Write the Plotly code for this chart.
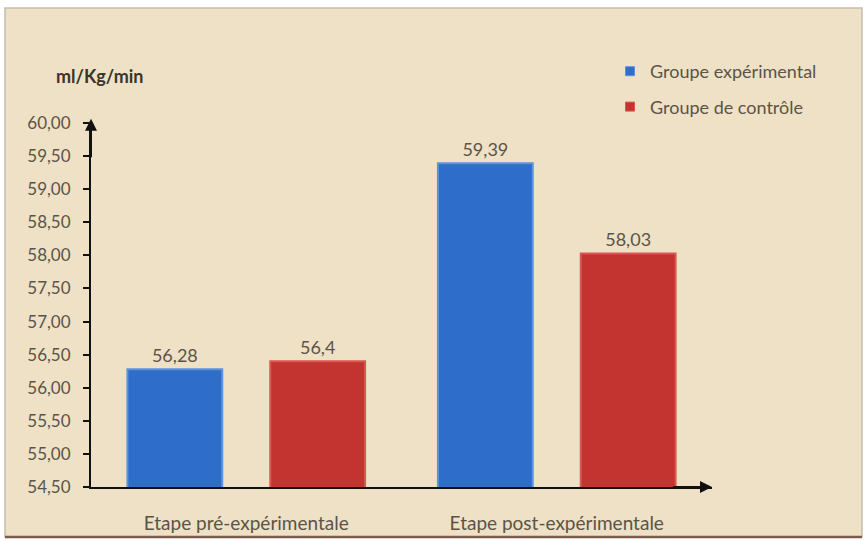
import plotly.graph_objects as go

# Mean VO2max per stage and group (ml/Kg/min)
stages = ["Etape pré-expérimentale", "Etape post-expérimentale"]
groups = ["Groupe expérimental", "Groupe de contrôle"]
experimental = [56.28, 59.39]
control = [56.4, 58.03]

y_min, y_max, y_step = 54.5, 60.0, 0.5
unit_label = "ml/Kg/min"

W, H = 866, 541
L, R, T, B = 91, 154, 123, 54
pw, ph = W - L - R, H - T - B

def px_x(px):
    return (px - L) / pw

def px_y(py):
    return (H - B - py) / ph

FONT = "Lato, Noto Sans, sans-serif"
TXT = "#5b5446"
BLUE, BLUE_EDGE = "#2e6dc9", "#5b93e0"
RED, RED_EDGE = "#c33430", "#dc5650"

def fr(v):
    return str(v).replace(".", ",")

fig = go.Figure()
fig.add_bar(
    name=groups[0], x=stages, y=experimental,
    marker=dict(color=BLUE, line=dict(color=BLUE_EDGE, width=2)),
    text=[fr(v) for v in experimental], textposition="outside",
    textfont=dict(size=18, color=TXT, family=FONT),
    showlegend=False, cliponaxis=False,
)
fig.add_bar(
    name=groups[1], x=stages, y=control,
    marker=dict(color=RED, line=dict(color=RED_EDGE, width=2)),
    text=[fr(v) for v in control], textposition="outside",
    textfont=dict(size=18, color=TXT, family=FONT),
    showlegend=False, cliponaxis=False,
)

# Legend entries with small square keys
for name, col, edge, grp in [(groups[0], BLUE, BLUE_EDGE, "a"),
                             (groups[1], RED, RED_EDGE, "b")]:
    fig.add_scatter(x=[None], y=[None], mode="markers", name=name,
                    legendgroup=grp,
                    marker=dict(symbol="square", size=9, color=col,
                                line=dict(color=edge, width=1)))

# Parchment panel with its frame
fig.add_shape(type="rect", xref="paper", yref="paper",
              x0=px_x(5), x1=px_x(862), y0=px_y(537), y1=px_y(8),
              fillcolor="#eee1c6", line=dict(color="#c4bcb0", width=1.5),
              layer="below")
fig.add_shape(type="line", xref="paper", yref="paper",
              x0=px_x(5), x1=px_x(862), y0=px_y(537), y1=px_y(537),
              line=dict(color="#7d5b4c", width=2.5), layer="below")

# Axis arrows
fig.add_annotation(xref="paper", yref="paper", x=0, y=1.012, ax=0, ay=40,
                   showarrow=True, arrowhead=2, arrowsize=1.2, arrowwidth=2,
                   arrowcolor="#111", text="")
fig.add_annotation(xref="paper", yref="paper", x=1.0, y=0, ax=-40, ay=0,
                   showarrow=True, arrowhead=2, arrowsize=1.2, arrowwidth=2,
                   arrowcolor="#111", text="")

fig.add_annotation(xref="paper", yref="paper", x=px_x(99), y=px_y(76),
                   xanchor="center", yanchor="middle",
                   text="<b>" + unit_label + "</b>", showarrow=False,
                   font=dict(size=18, color="#3a352b", family=FONT))

fig.update_layout(
    width=W, height=H,
    margin=dict(l=L, r=R, t=T, b=B),
    paper_bgcolor="white", plot_bgcolor="rgba(0,0,0,0)",
    barmode="group", bargap=0.08, bargroupgap=0.336,
    separators=", ",
    font=dict(family=FONT, color=TXT, size=18),
    showlegend=True,
    legend=dict(x=px_x(610), y=px_y(53), xanchor="left", yanchor="top",
                bgcolor="rgba(0,0,0,0)", tracegroupgap=9, itemsizing="trace",
                font=dict(size=18, color=TXT, family=FONT)),
    xaxis=dict(showline=True, linecolor="#111", linewidth=2, ticks="",
               tickfont=dict(size=19, color=TXT), showgrid=False,
               ticklabelstandoff=18, automargin=False, range=[-0.5, 1.5]),
    yaxis=dict(range=[y_min, y_max], dtick=y_step, tick0=y_min,
               tickformat=".2f", showline=True, linecolor="#111",
               linewidth=2, ticks="outside", ticklen=6, tickwidth=1.5,
               tickcolor="#111", showgrid=False, zeroline=False,
               automargin=False,
               ticklabelstandoff=9, tickfont=dict(size=17, color=TXT)),
)

fig.write_html("out.html")
